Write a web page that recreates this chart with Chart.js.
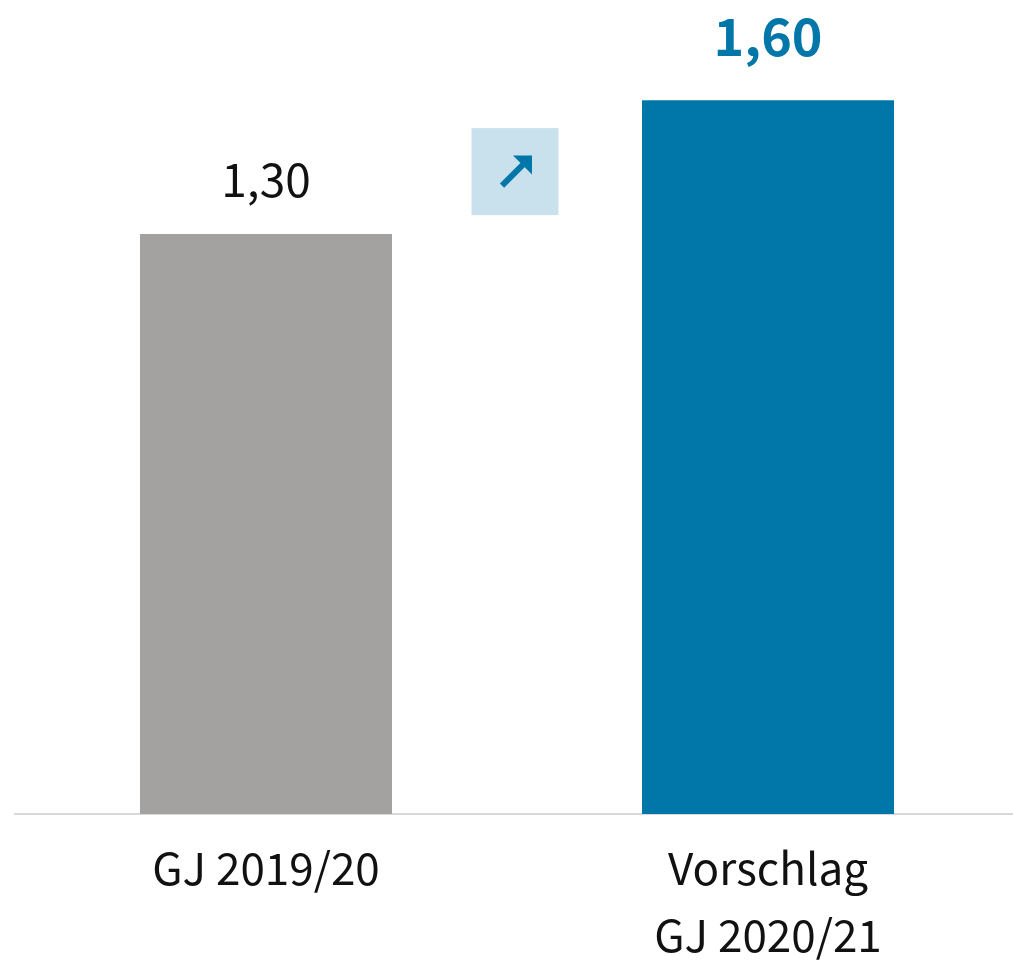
<!DOCTYPE html>
<html>
<head>
<meta charset="utf-8">
<script src="https://cdn.jsdelivr.net/npm/chart.js@4.4.1/dist/chart.umd.min.js"></script>
<style>
  html, body { margin: 0; padding: 0; background: #fff; }
  #wrap { width: 1013px; height: 960px; }
</style>
</head>
<body>
<div id="wrap"><canvas id="dividende" width="1013" height="960"></canvas></div>
<script>
// Dividende je Aktie
const categories = ['GJ 2019/20', ['Vorschlag', 'GJ 2020/21']];
const values = [1.30, 1.60];
const valueLabels = ['1,30', '1,60'];
const barColors = ['#a3a2a1', '#0077a8'];
const arrowLevel = 1.44; // Höhe des Pfeil-Kästchens (in Achseneinheiten)

const FONT = '"Noto Sans CJK JP", "Noto Sans", sans-serif';

// Balken in der Mitte ihres Kategorie-Slots (Index + 0.5)
const points = values.map((v, i) => ({ x: i + 0.5, y: v }));

// Werte über den Balken
const valueLabelPlugin = {
    id: 'valueLabels',
    afterDatasetsDraw(chart) {
        const ctx = chart.ctx;
        const meta = chart.getDatasetMeta(0);
        ctx.save();
        ctx.textAlign = 'center';
        ctx.textBaseline = 'middle';
        meta.data.forEach((bar, i) => {
            const last = i === meta.data.length - 1;
            ctx.font = (last ? 'bold 52px ' : '46px ') + FONT;
            ctx.fillStyle = last ? '#0077a8' : '#111111';
            ctx.fillText(valueLabels[i], bar.x, bar.y - (last ? 64 : 55));
        });
        ctx.restore();
    }
};

// Kästchen mit Pfeil zwischen den Balken
const arrowPlugin = {
    id: 'arrowBox',
    afterDatasetsDraw(chart) {
        const ctx = chart.ctx;
        const meta = chart.getDatasetMeta(0);
        const cx = (meta.data[0].x + meta.data[1].x) / 2 - 2;
        const cy = chart.scales.y.getPixelForValue(arrowLevel);
        const s = 87;
        ctx.save();
        ctx.fillStyle = '#c9e1ec';
        ctx.fillRect(cx - s / 2, cy - s / 2, s, s);
        ctx.strokeStyle = '#0077a8';
        ctx.fillStyle = '#0077a8';
        ctx.lineWidth = 6;
        ctx.beginPath();
        ctx.moveTo(cx - 13, cy + 14);
        ctx.lineTo(cx + 8, cy - 7);
        ctx.stroke();
        ctx.beginPath();
        ctx.moveTo(cx + 17, cy - 16);
        ctx.lineTo(cx + 17, cy + 3);
        ctx.lineTo(cx - 2, cy - 16);
        ctx.closePath();
        ctx.fill();
        ctx.restore();
    }
};

new Chart(document.getElementById('dividende'), {
    type: 'bar',
    data: {
        datasets: [{
            data: points,
            backgroundColor: barColors,
            categoryPercentage: 1,
            barPercentage: 0.502
        }]
    },
    options: {
        responsive: false,
        animation: false,
        layout: { padding: { top: 11, left: 15, right: 0, bottom: 0 } },
        plugins: {
            legend: { display: false },
            tooltip: { enabled: false }
        },
        scales: {
            x: {
                type: 'linear',
                offset: false,
                min: 0,
                max: 1.988, // rechter Slot läuft etwas über den Rand hinaus
                grid: { display: false, offset: false },
                border: { color: '#d9d9d9', width: 2 },
                afterBuildTicks(scale) {
                    scale.ticks = categories.map((c, i) => ({ value: i + 0.5 }));
                },
                ticks: {
                    autoSkip: false,
                    maxRotation: 0,
                    color: '#111111',
                    padding: 13,
                    font: { family: FONT, size: 44, lineHeight: 1.52 },
                    callback: (value, index) => categories[index]
                },
                afterFit(scale) {
                    scale.height = 146;
                }
            },
            y: {
                display: false,
                min: 0,
                max: 1.8
            }
        }
    },
    plugins: [valueLabelPlugin, arrowPlugin]
});
</script>
</body>
</html>
